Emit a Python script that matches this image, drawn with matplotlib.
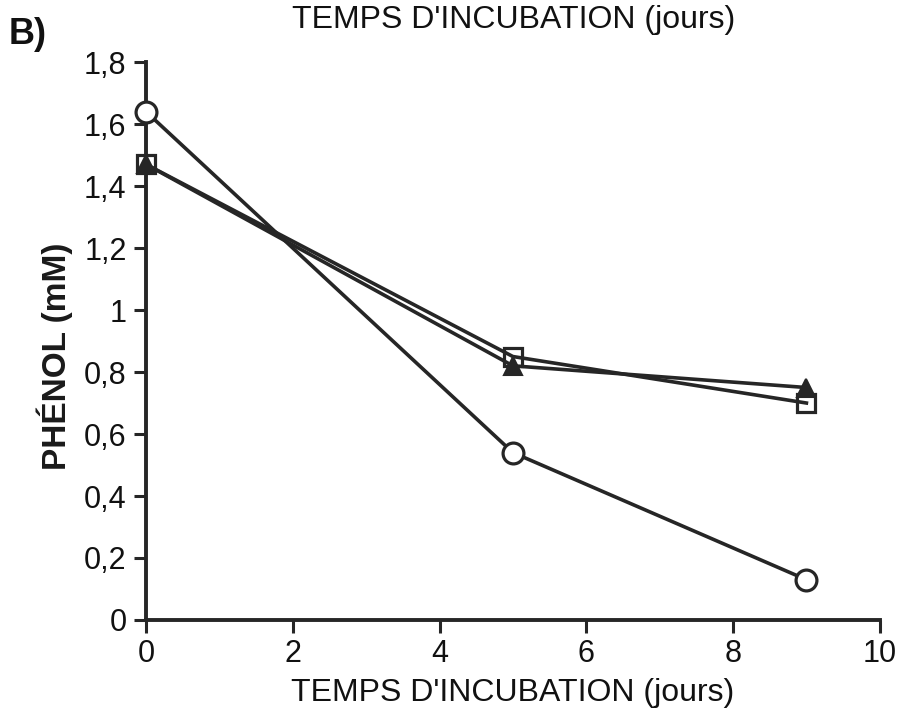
import matplotlib
matplotlib.use("Agg")
import matplotlib.pyplot as plt

# Incubation time (days) and phenol concentration (mM) for three conditions
days = [0, 5, 9]
phenol_circle = [1.64, 0.54, 0.13]
phenol_square = [1.47, 0.85, 0.70]
phenol_triangle = [1.47, 0.82, 0.75]

x_ticks = [0, 2, 4, 6, 8, 10]
y_ticks = [0, 0.2, 0.4, 0.6, 0.8, 1.0, 1.2, 1.4, 1.6, 1.8]
y_tick_labels = ["0", "0,2", "0,4", "0,6", "0,8", "1", "1,2", "1,4", "1,6", "1,8"]

plt.rcParams["font.family"] = ["Liberation Sans", "DejaVu Sans"]

fig = plt.figure(figsize=(9.07, 7.22), dpi=100)
ax = fig.add_axes([0.161, 0.1413, 0.809, 0.7727])

ink = "#262626"
ax.plot(days, phenol_circle, color=ink, lw=2.6, marker="o", ms=15,
        mfc="white", mec=ink, mew=2.3, clip_on=False, zorder=3)
ax.plot(days, phenol_triangle, color=ink, lw=2.6, marker="^", ms=13,
        mfc=ink, mec=ink, mew=1.5, clip_on=False, zorder=3)
ax.plot(days, phenol_square, color=ink, lw=2.6, marker="s", ms=13,
        mfc="none", mec=ink, mew=2.3, clip_on=False, zorder=4)

ax.set_xlim(0, 10)
ax.set_ylim(0, 1.8)
ax.set_xticks(x_ticks)
ax.set_xticklabels([str(t) for t in x_ticks], fontsize=22)
ax.set_yticks(y_ticks)
ax.set_yticklabels(y_tick_labels, fontsize=22)

for side in ("top", "right"):
    ax.spines[side].set_visible(False)
for side in ("left", "bottom"):
    ax.spines[side].set_linewidth(2.8)
    ax.spines[side].set_color(ink)
ax.tick_params(axis="both", direction="out", length=9, width=2.2, color=ink,
               labelcolor="#111111", pad=5)

ax.set_xlabel("TEMPS D'INCUBATION (jours)", fontsize=23, color="#111111", labelpad=6)
ax.set_ylabel("PHÉNOL (mM)", fontsize=24, fontweight="bold", color="#1a1a1a")
ax.yaxis.set_label_coords(-0.10, 0.472)

fig.text(0.566, 0.972, "TEMPS D'INCUBATION (jours)", fontsize=23,
         ha="center", va="center", color="#111111")
fig.text(0.010, 0.952, "B)", fontsize=26, fontweight="bold",
         ha="left", va="center", color="#111111")

fig.savefig("out.png", dpi=100, facecolor="white")
